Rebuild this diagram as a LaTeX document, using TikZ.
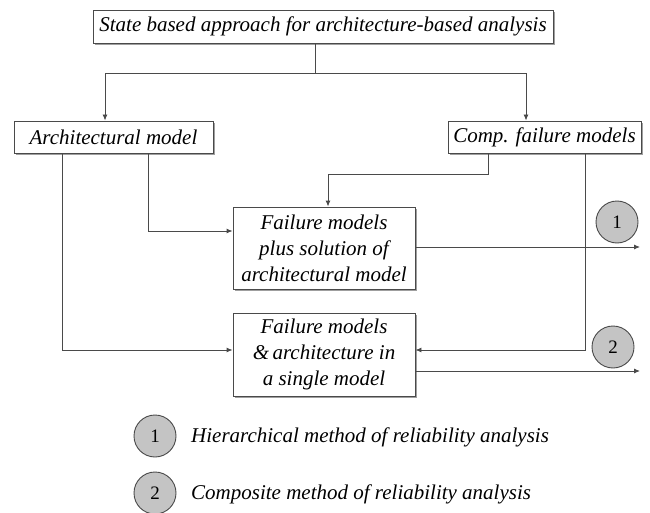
\documentclass[tikz,border=0pt]{standalone}
\usepackage{fontspec}
\setmainfont{Liberation Serif}
\usetikzlibrary{arrows.meta,shadows}

\definecolor{linegray}{HTML}{4A4A4A}
\definecolor{discfill}{HTML}{C4C4C4}

\tikzset{
  box/.style={draw=linegray, line width=0.9pt, fill=white, inner sep=0pt,
    font=\fontsize{21}{26}\selectfont\itshape, align=center,
    drop shadow={shadow xshift=2.2pt, shadow yshift=-2.2pt, fill=gray!75, opacity=1}},
  link/.style={draw=linegray, line width=0.9pt},
  arr/.style={link, -{Latex[length=6pt,width=5pt]}},
  disc/.style={circle, draw=linegray, line width=0.9pt, fill=discfill,
    minimum size=42pt, inner sep=0pt, font=\fontsize{19}{19}\selectfont},
  legend/.style={anchor=west, inner sep=0pt, font=\fontsize{21}{24}\selectfont\itshape}
}

\begin{document}
\begin{tikzpicture}[x=1pt, y=-1pt]
  \useasboundingbox (0,0) rectangle (650,513);

  % boxes
  \node[box, minimum width=460pt, minimum height=33pt] (top) at (323,26.5)
    {State based approach for architecture-based analysis};
  \node[box, minimum width=199pt, minimum height=32pt] (arch) at (113.5,137)
    {Architectural model};
  \node[box, minimum width=193pt, minimum height=32pt] (comp) at (544.5,137)
    {Comp. failure models};
  \node[box, minimum width=182pt, minimum height=82pt] (hier) at (324,248)
    {Failure models\\plus solution of\\architectural model};
  \node[box, minimum width=182pt, minimum height=83pt] (single) at (324,354.5)
    {Failure models\\\&\,architecture in\\ a single model};

  % output ends
  \coordinate (out1) at (640,247);
  \coordinate (out2) at (640,371);
  \coordinate (split) at (315,73);

  % numbered discs
  \node[disc] (d1) at (617,222) {1};
  \node[disc] (d2) at (613,347) {2};
  \node[disc] (k1) at (155,436) {1};
  \node[disc] (k2) at (155,493) {2};
  \node[legend] (t1) at (191,437) {Hierarchical method of reliability analysis};
  \node[legend] (t2) at (191,494) {Composite method of reliability analysis};

  % fan-out from the top box
  \draw[link] (split |- top.south) -- (split);
  \draw[arr] (split) -| ([xshift=-8.5pt]arch.north);
  \draw[arr] (split) -| ([xshift=-18.5pt]comp.north);

  % architectural model into both analyses
  \draw[arr] ([xshift=-51.5pt]arch.south) |- ([yshift=4.5pt]single.west);
  \draw[arr] ([xshift=34.5pt]arch.south) |- ([yshift=17pt]hier.west);

  % component failure models into both analyses
  \draw[arr] ([xshift=-56.5pt]comp.south) -- ++(0,21) -| ([xshift=4pt]hier.north);
  \draw[arr] ([xshift=40.5pt]comp.south) |- ([yshift=4.5pt]single.east);

  % results
  \draw[arr] (hier.east |- out1) -- (out1);
  \draw[arr] (single.east |- out2) -- (out2);
\end{tikzpicture}
\end{document}
